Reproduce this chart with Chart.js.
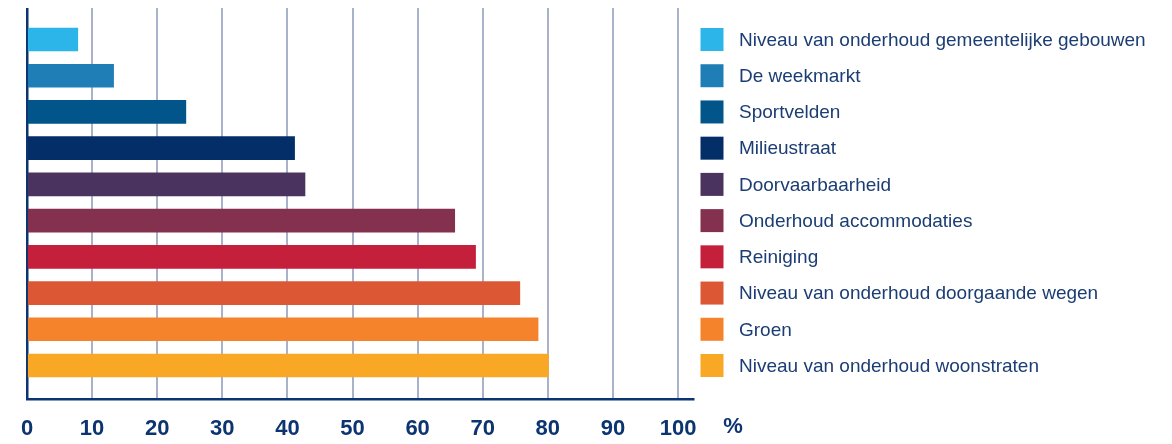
<!DOCTYPE html>
<html>
<head>
<meta charset="utf-8">
<script src="https://cdn.jsdelivr.net/npm/chart.js@4"></script>
<style>
html,body{margin:0;padding:0;background:#fff;}
#wrap{width:1172px;height:444px;position:relative;}
</style>
</head>
<body>
<div id="wrap"><canvas id="c" width="1172" height="444"></canvas></div>
<script>
const categories = [
  "Niveau van onderhoud gemeentelijke gebouwen",
  "De weekmarkt",
  "Sportvelden",
  "Milieustraat",
  "Doorvaarbaarheid",
  "Onderhoud accommodaties",
  "Reiniging",
  "Niveau van onderhoud doorgaande wegen",
  "Groen",
  "Niveau van onderhoud woonstraten"
];
const values = [7.8, 13.3, 24.4, 41.1, 42.7, 65.7, 68.9, 75.7, 78.5, 80.1];
const colors = ["#2cb5e9", "#1f7eb5", "#02558b", "#032e67", "#4a345f", "#84304f", "#c41f3b", "#dc5733", "#f4832b", "#f9a825"];
const xTicks = [0, 10, 20, 30, 40, 50, 60, 70, 80, 90, 100];
const unitLabel = "%";

const NAVY = "#0b3470";
const TEXT = "#1b3d73";

const legendPlugin = {
  id: 'sideLegend',
  afterDraw(chart) {
    const ctx = chart.ctx;
    const ys = chart.scales.y;
    const xs = chart.scales.x;
    ctx.save();
    categories.forEach((c, i) => {
      const yc = ys.getPixelForValue(i);
      ctx.fillStyle = colors[i];
      ctx.fillRect(700.5, yc - 11.5, 23, 23);
      ctx.fillStyle = TEXT;
      ctx.font = '19px "Liberation Sans", Arial, sans-serif';
      ctx.textBaseline = 'middle';
      ctx.textAlign = 'left';
      ctx.fillText(c, 739, yc + 1);
    });
    ctx.fillStyle = NAVY;
    ctx.font = 'bold 22px "Liberation Sans", Arial, sans-serif';
    ctx.textAlign = 'center';
    ctx.textBaseline = 'middle';
    ctx.fillText(unitLabel, xs.getPixelForValue(100) + 55, 427);
    ctx.restore();
  }
};

new Chart(document.getElementById('c'), {
  type: 'bar',
  data: {
    datasets: [{
      data: values.map((v, i) => ({x: v, y: i})),
      backgroundColor: colors,
      borderWidth: 0,
      barThickness: 23
    }]
  },
  options: {
    indexAxis: 'y',
    responsive: false,
    animation: false,
    devicePixelRatio: 1,
    layout: {padding: {left: 27, right: 479, top: 8, bottom: 0}},
    plugins: {legend: {display: false}, tooltip: {enabled: false}},
    scales: {
      y: {
        type: 'linear',
        reverse: true,
        offset: false,
        min: -0.87,
        max: 9.925,
        display: false,
        grid: {display: false, offset: false}
      },
      x: {
        type: 'linear',
        min: 0,
        max: 102.3,
        afterBuildTicks(scale) { scale.ticks = xTicks.map(v => ({value: v})); },
        afterFit(scale) { scale.height = 45; },
        ticks: {
          includeBounds: false,
          color: NAVY,
          font: {family: '"Liberation Sans", Arial, sans-serif', size: 22, weight: 'bold'},
          padding: 17,
          maxRotation: 0
        },
        grid: {
          drawTicks: false,
          color: (c) => (c.tick && c.tick.value === 0) ? NAVY : '#a9b2cb',
          lineWidth: (c) => (c.tick && c.tick.value === 0) ? 2.5 : 2
        },
        border: {display: true, color: NAVY, width: 2.5}
      }
    }
  },
  plugins: [legendPlugin]
});
</script>
</body>
</html>
